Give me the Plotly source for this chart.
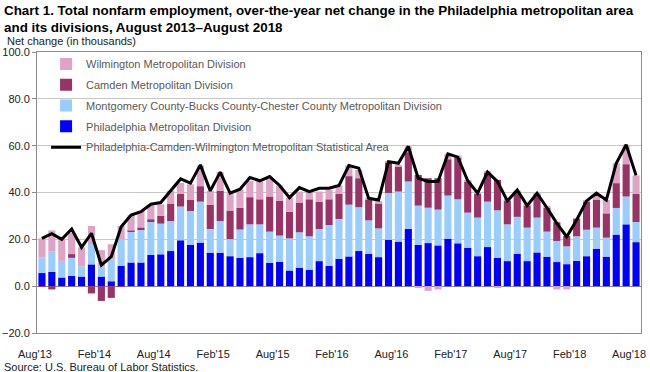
import plotly.graph_objects as go

months = [f"{m} {y}" for y in range(2013, 2019) for m in
          ["Jan", "Feb", "Mar", "Apr", "May", "Jun", "Jul", "Aug", "Sep", "Oct", "Nov", "Dec"]]
months = months[7:7 + 61]  # Aug 2013 .. Aug 2018

tick_labels = ["Aug'13", "Feb'14", "Aug'14", "Feb'15", "Aug'15", "Feb'16",
               "Aug'16", "Feb'17", "Aug'17", "Feb'18", "Aug'18"]

philadelphia = [5.6, 6.1, 3.7, 4.4, 4.1, 9.3, 4.1, 2.1, 8.7, 10.1,
                10.1, 13.3, 13.6, 15.0, 19.6, 17.7, 18.6, 14.3, 14.3, 12.8,
                12.1, 12.4, 14.1, 9.9, 10.4, 6.7, 7.9, 7.0, 10.7, 8.7,
                11.6, 12.7, 15.0, 13.8, 12.4, 19.8, 19.0, 24.4, 17.6, 18.4,
                17.4, 20.3, 18.3, 16.3, 12.8, 16.7, 12.1, 10.7, 13.8, 10.7,
                14.4, 12.6, 10.3, 9.4, 10.8, 12.8, 16.0, 12.6, 22.0, 26.4, 18.8]

montgomery = [6.7, 8.6, 7.1, 7.7, 4.3, 8.7, 4.3, 9.3, 11.4, 13.2,
              14.3, 14.5, 13.1, 12.8, 14.4, 14.4, 17.5, 10.1, 13.5, 7.3,
              12.1, 14.0, 12.3, 13.4, 11.2, 13.7, 15.1, 14.3, 13.7, 17.4,
              17.1, 22.1, 18.7, 14.3, 12.3, 20.0, 21.4, 20.3, 16.8, 15.1,
              15.3, 18.4, 18.8, 15.1, 16.5, 19.4, 20.3, 15.7, 15.8, 14.3,
              14.9, 10.7, 9.0, 7.6, 10.5, 11.3, 9.0, 8.1, 11.4, 11.9, 8.6]

camden = [-0.3, -1.4, 0.0, 1.6, 0.0, -3.1, -6.3, -5.0, -0.3, 0.4,
          0.7, 0.8, 3.4, 7.5, 5.5, 4.7, 6.6, 10.4, 13.0, 12.2,
          9.2, 11.6, 10.7, 15.0, 14.8, 11.4, 12.7, 15.8, 11.7, 11.0,
          10.7, 12.2, 12.4, 9.0, 10.6, 13.2, 10.8, 12.5, 13.1, 12.6,
          13.4, 15.5, 17.9, 13.3, 10.1, 12.6, 13.0, 10.1, 10.5, 9.4,
          10.0, 10.2, 8.0, 4.4, 7.4, 12.0, 12.0, 10.4, 10.6, 13.8, 12.0]

wilmington = [8.1, 9.1, 9.2, 9.1, 8.2, 7.7, 7.0, 6.5, 5.6, 6.7,
              7.0, 5.8, 4.9, 5.4, 4.6, 6.7, 8.8, 5.9, 7.9, 7.4,
              8.0, 7.0, 7.6, 7.5, 6.6, 6.0, 4.7, 3.0, 4.3, 4.0,
              3.6, 4.5, 3.6, 0.7, 1.1, 0.5, 0.3, 2.5, -0.5, -2.0,
              -1.4, 2.3, 0.8, 0.3, 0.3, 0.3, -0.8, 0.3, 0.6, 0.3,
              0.4, 0.5, -1.4, -1.4, 0.3, 0.3, 1.7, 5.7, 8.5, 8.3, 7.9]

msa_total = [20.4, 22.4, 20.0, 24.4, 16.6, 22.6, 9.0, 12.6, 25.4, 30.4,
             31.8, 35.0, 35.7, 40.7, 45.8, 44.0, 51.8, 40.7, 48.7, 39.7,
             41.4, 46.4, 45.0, 46.8, 43.0, 37.8, 42.1, 40.4, 41.8, 41.8,
             43.0, 51.5, 50.4, 37.5, 36.8, 53.2, 52.5, 59.7, 46.1, 44.7,
             44.7, 56.5, 55.1, 45.0, 39.7, 48.7, 44.7, 36.4, 41.1, 34.4,
             39.7, 33.5, 26.8, 21.1, 28.3, 36.4, 39.7, 36.8, 52.5, 60.4, 47.3]

x = list(range(len(months)))
FONT = "Liberation Sans, Arial, sans-serif"

fig = go.Figure()
bar_series = [
    ("Philadelphia Metropolitan Division", philadelphia, "#0000FF", 4),
    ("Montgomery County-Bucks County-Chester County Metropolitan Division", montgomery, "#99CCFF", 3),
    ("Camden Metropolitan Division", camden, "#993366", 2),
    ("Wilmington Metropolitan Division", wilmington, "#E0A3C6", 1),
]
for name, vals, color, rank in bar_series:
    fig.add_trace(go.Bar(x=x, y=vals, name=name, marker_color=color,
                         marker_line_width=0, legendrank=rank, legendgroup=name,
                         customdata=months,
                         hovertemplate="%{customdata}: %{y:.1f}<extra>" + name + "</extra>"))

fig.add_trace(go.Scatter(x=x, y=msa_total, mode="lines",
                         name="Philadelphia-Camden-Wilmington Metropolitan Statistical Area",
                         line=dict(color="black", width=3), legendrank=5,
                         legendgroup="msa", customdata=months,
                         hovertemplate="%{customdata}: %{y:.1f}<extra>MSA</extra>"))

fig.update_layout(
    width=650, height=372,
    barmode="relative", bargap=0.28,
    paper_bgcolor="white", plot_bgcolor="white",
    margin=dict(l=37, r=9, t=52, b=39, autoexpand=False),
    font=dict(family=FONT, size=11, color="#222"),
    showlegend=True,
    legend=dict(x=0.015, y=1.009, xanchor="left", yanchor="top",
                bgcolor="rgba(0,0,0,0)", traceorder="grouped", tracegroupgap=1.8,
                font=dict(family=FONT, size=11, color="#595959"),
                itemwidth=30),
    xaxis=dict(range=[-0.5, 60.5], tickmode="array",
               tickvals=list(range(0, 61, 6)), ticktext=tick_labels,
               ticklabelshift=-7, automargin=False,
               ticks="outside", ticklen=11, tickcolor="rgba(0,0,0,0)",
               showgrid=False, zeroline=False,
               showline=True, linecolor="#8c8c8c", mirror=True,
               tickfont=dict(family=FONT, size=11, color="#222")),
    yaxis=dict(range=[-20, 100], tickmode="array", tickvals=[-20, 0, 20, 40, 60, 80, 100],
               tickformat=".1f", ticks="outside", ticklen=4, tickcolor="#8c8c8c",
               automargin=False,
               showgrid=True, gridcolor="#C8C8C8", gridwidth=1,
               zeroline=True, zerolinecolor="#8c8c8c", zerolinewidth=1,
               showline=True, linecolor="#8c8c8c", mirror=True,
               tickfont=dict(family=FONT, size=11, color="#222")),
    annotations=[
        dict(text="<b>Chart 1. Total nonfarm employment, over-the-year net change in the Philadelphia metropolitan area"
                  "<br>and its divisions, August 2013–August 2018</b>",
             xref="paper", yref="paper", x=-0.058, y=1.18, xanchor="left", yanchor="top",
             align="left", showarrow=False,
             font=dict(family=FONT, size=13.4, color="black")),
        dict(text="Net change (in thousands)", xref="paper", yref="paper",
             x=-0.053, y=1.04, xanchor="left", yanchor="middle", showarrow=False,
             font=dict(family=FONT, size=11, color="#222")),
        dict(text="Source: U.S. Bureau of Labor Statistics.", xref="paper", yref="paper",
             x=-0.058, y=-0.122, xanchor="left", yanchor="middle", showarrow=False,
             font=dict(family=FONT, size=11, color="#222")),
    ],
)

fig.write_html("out.html", config={"displayModeBar": False},
               post_script="document.body.style.margin='0';document.body.style.padding='0';")
